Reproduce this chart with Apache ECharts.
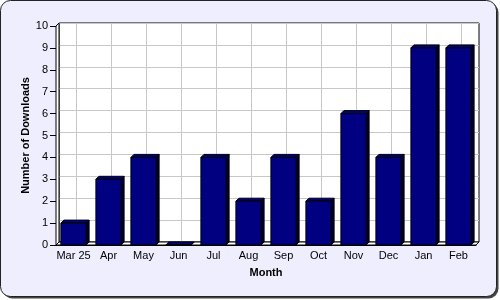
<!DOCTYPE html>
<html><head><meta charset="utf-8">
<script src="https://cdn.jsdelivr.net/npm/echarts@6/dist/echarts.min.js"></script>
<style>html,body{margin:0;padding:0;background:#fff}#c{width:500px;height:300px}</style>
</head><body><div id="c"></div>
<script>
var categories = ['Mar 25','Apr','May','Jun','Jul','Aug','Sep','Oct','Nov','Dec','Jan','Feb'];
var downloads = [1,3,4,0,4,2,4,2,6,4,9,9];
var yMin = 0, yMax = 10, yStep = 1;
var DEPTH = 3;
var FONT = 'Liberation Sans, Arial, sans-serif';

var chart = echarts.init(document.getElementById('c'), null, {renderer:'canvas'});

function frameRender(params, api){
  var cs = params.coordSys, d = DEPTH;
  var x0 = cs.x, x1 = cs.x + cs.width, yt = cs.y, yb = cs.y + cs.height;
  var st = {fill:'#fff', stroke:'#000', lineWidth:1};
  return {type:'group', children:[
    {type:'polygon', shape:{points:[[x0,yb],[x1,yb],[x1+d,yb-d],[x0+d,yb-d]]}, style:st},
    {type:'polygon', shape:{points:[[x0,yt],[x0+d,yt-d],[x0+d,yb-d],[x0,yb]]}, style:st}
  ]};
}

function barRender(params, api){
  var d = DEPTH;
  var top = api.coord([api.value(0), api.value(1)]);
  var base = api.coord([api.value(0), 0]);
  var w = api.size([1,0])[0] * 0.72;
  var xl = top[0] - w/2, xr = top[0] + w/2, yt = top[1], yb = base[1];
  var sd = {stroke:'#000', lineWidth:1};
  return {type:'group', children:[
    {type:'polygon', shape:{points:[[xr,yt],[xr+d,yt-d],[xr+d,yb-d],[xr,yb]]}, style:Object.assign({fill:'#000030'}, sd)},
    {type:'polygon', shape:{points:[[xl,yt],[xr,yt],[xr+d,yt-d],[xl+d,yt-d]]}, style:Object.assign({fill:'#000080'}, sd)},
    {type:'rect', shape:{x:xl, y:yt, width:w, height:yb-yt}, style:Object.assign({fill:'#000080'}, sd)}
  ]};
}

var option = {
  animation:false,
  graphic:[
    {type:'rect', z:-10, shape:{x:2.5,y:2.5,width:496,height:296,r:10}, style:{fill:'#444'}},
    {type:'rect', z:-9, shape:{x:0.5,y:0.5,width:496,height:296,r:10}, style:{fill:'#eeeeff', stroke:'#222', lineWidth:1}}
  ],
  grid:[
    {left:56, right:24, top:26, bottom:55},
    {left:59, right:21, top:23, bottom:58, show:true, backgroundColor:'#fff', borderColor:'#000', borderWidth:1}
  ],
  xAxis:[
    {type:'category', gridIndex:0, data:categories, boundaryGap:true,
     axisLine:{lineStyle:{color:'#000'}}, axisTick:{alignWithLabel:true, interval:0, length:4, lineStyle:{color:'#000'}},
     axisLabel:{interval:0, color:'#000', fontFamily:FONT, fontSize:11, margin:5},
     splitLine:{show:false},
     name:'Month', nameLocation:'middle', nameGap:22,
     nameTextStyle:{color:'#000', fontFamily:FONT, fontSize:11, fontWeight:'bold'}},
    {type:'category', gridIndex:1, data:categories, boundaryGap:true,
     axisLine:{show:false}, axisTick:{show:false}, axisLabel:{show:false},
     splitLine:{show:true, interval:0, alignWithLabel:true, lineStyle:{color:'#c8c8c8', width:1}}}
  ],
  yAxis:[
    {type:'value', gridIndex:0, min:yMin, max:yMax, interval:yStep,
     axisLine:{show:true, lineStyle:{color:'#000'}}, axisTick:{show:true, length:6, lineStyle:{color:'#000'}},
     axisLabel:{color:'#000', fontFamily:FONT, fontSize:11, margin:8},
     splitLine:{show:false},
     name:'Number of Downloads', nameLocation:'middle', nameGap:25, nameMoveOverlap:false,
     nameTextStyle:{color:'#000', fontFamily:FONT, fontSize:11, fontWeight:'bold'}},
    {type:'value', gridIndex:1, min:yMin, max:yMax, interval:yStep,
     axisLine:{show:false}, axisTick:{show:false}, axisLabel:{show:false},
     splitLine:{show:true, lineStyle:{color:'#c8c8c8', width:1}}}
  ],
  series:[
    {type:'custom', xAxisIndex:0, yAxisIndex:0, z:3, data:[[0,0]], renderItem:frameRender, silent:true},
    {type:'custom', xAxisIndex:0, yAxisIndex:0, z:4, renderItem:barRender,
     data:downloads.map(function(v,i){return [i,v];})}
  ]
};
chart.setOption(option);
</script></body></html>
